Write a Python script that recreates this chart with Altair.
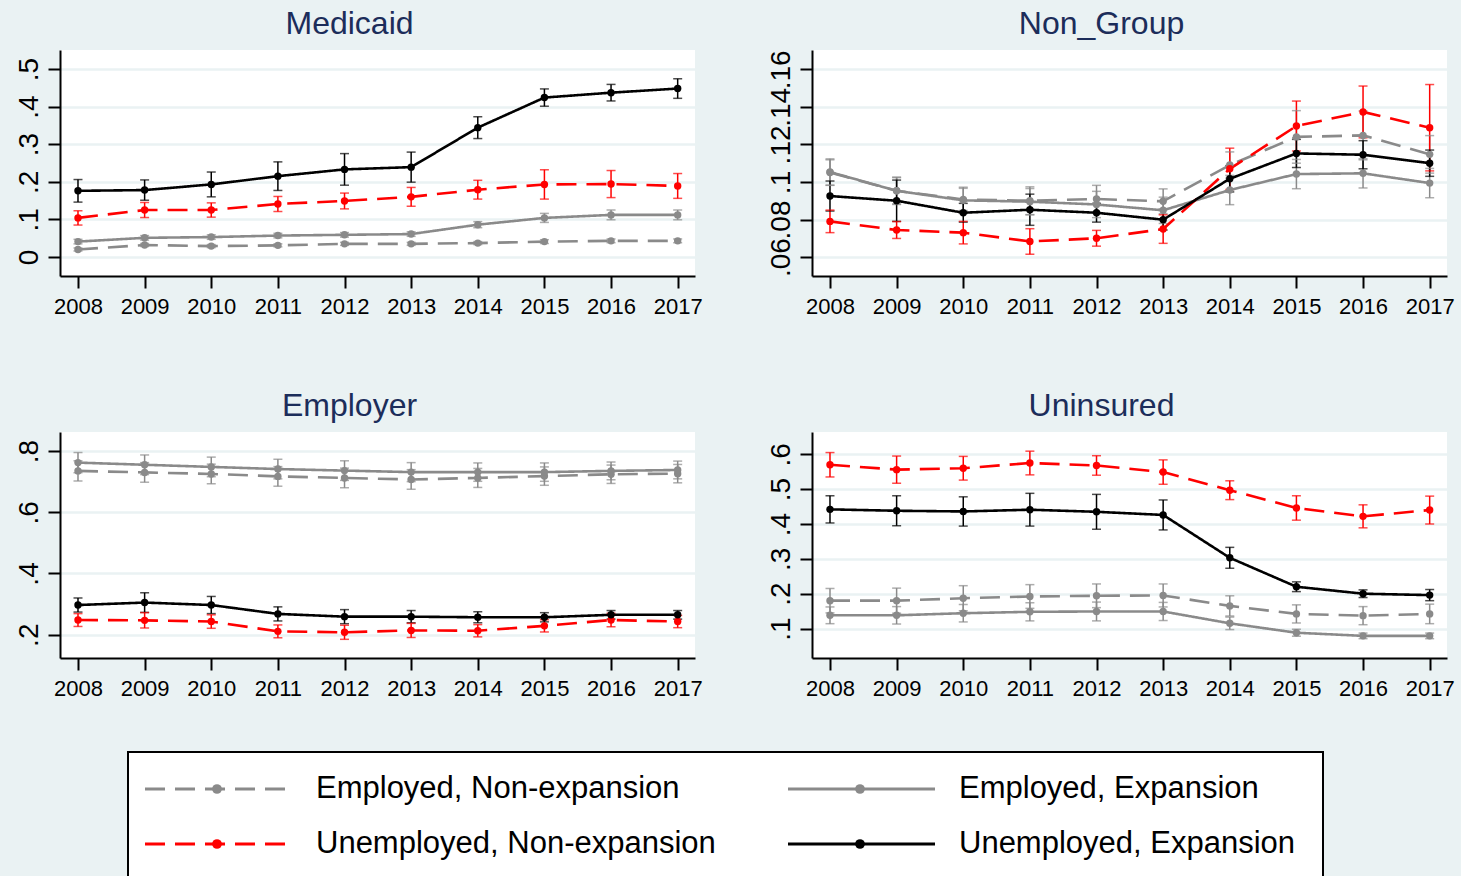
import altair as alt
import pandas as pd

years = [2008, 2009, 2010, 2011, 2012, 2013, 2014, 2015, 2016, 2017]

series_names = ["Employed, Non-expansion", "Employed, Expansion",
                "Unemployed, Non-expansion", "Unemployed, Expansion"]
series_colors = ["#8a8a8a", "#8a8a8a", "#ff0000", "#000000"]
series_dashes = [[20, 10], [1, 0], [20, 10], [1, 0]]
legend_cols = [0, 1, 0, 1]
legend_rows = [0, 0, 1, 1]

# ---- Medicaid ----
med_emp_nonexp = [0.020, 0.032, 0.029, 0.031, 0.035, 0.035, 0.037, 0.041, 0.043, 0.043]
med_emp_nonexp_err = [0.004, 0.004, 0.004, 0.004, 0.004, 0.004, 0.004, 0.005, 0.005, 0.005]
med_emp_exp = [0.041, 0.051, 0.053, 0.057, 0.059, 0.061, 0.086, 0.104, 0.112, 0.112]
med_emp_exp_err = [0.006, 0.006, 0.006, 0.006, 0.006, 0.006, 0.008, 0.012, 0.013, 0.013]
med_unemp_nonexp = [0.104, 0.125, 0.125, 0.141, 0.149, 0.160, 0.179, 0.193, 0.194, 0.189]
med_unemp_nonexp_err = [0.019, 0.020, 0.019, 0.020, 0.021, 0.025, 0.025, 0.039, 0.036, 0.033]
med_unemp_exp = [0.176, 0.178, 0.193, 0.215, 0.233, 0.239, 0.344, 0.424, 0.437, 0.448]
med_unemp_exp_err = [0.030, 0.027, 0.033, 0.038, 0.042, 0.040, 0.029, 0.023, 0.022, 0.026]

# ---- Non_Group ----
ng_emp_nonexp = [0.105, 0.0953, 0.0907, 0.090, 0.0909, 0.0897, 0.109, 0.124, 0.1248, 0.1147]
ng_emp_nonexp_err = [0.0068, 0.0073, 0.0059, 0.0074, 0.0073, 0.0066, 0.007, 0.014, 0.013, 0.010]
ng_emp_exp = [0.1053, 0.0953, 0.0902, 0.0895, 0.088, 0.0849, 0.0957, 0.1042, 0.1046, 0.0994]
ng_emp_exp_err = [0.007, 0.007, 0.007, 0.007, 0.007, 0.007, 0.0078, 0.0078, 0.0078, 0.0078]
ng_unemp_nonexp = [0.079, 0.0744, 0.073, 0.0683, 0.070, 0.0749, 0.107, 0.1298, 0.1373, 0.1289]
ng_unemp_nonexp_err = [0.006, 0.0045, 0.006, 0.0068, 0.0042, 0.0076, 0.011, 0.0133, 0.0138, 0.023]
ng_unemp_exp = [0.0925, 0.090, 0.0836, 0.0852, 0.0836, 0.0799, 0.1017, 0.1152, 0.1145, 0.110]
ng_unemp_exp_err = [0.008, 0.011, 0.005, 0.0083, 0.005, 0.0055, 0.007, 0.0075, 0.0075, 0.007]

# ---- Employer ----
er_emp_nonexp = [0.735, 0.730, 0.725, 0.717, 0.712, 0.707, 0.712, 0.718, 0.724, 0.726]
er_emp_nonexp_err = [0.033, 0.032, 0.032, 0.032, 0.032, 0.032, 0.031, 0.030, 0.030, 0.030]
er_emp_exp = [0.762, 0.755, 0.748, 0.741, 0.736, 0.731, 0.731, 0.731, 0.735, 0.738]
er_emp_exp_err = [0.033, 0.032, 0.032, 0.032, 0.032, 0.031, 0.030, 0.030, 0.029, 0.029]
er_unemp_nonexp = [0.248, 0.247, 0.243, 0.211, 0.208, 0.214, 0.213, 0.229, 0.248, 0.243]
er_unemp_nonexp_err = [0.021, 0.025, 0.022, 0.021, 0.023, 0.023, 0.020, 0.020, 0.022, 0.020]
er_unemp_exp = [0.297, 0.305, 0.297, 0.268, 0.259, 0.259, 0.257, 0.257, 0.265, 0.265]
er_unemp_exp_err = [0.023, 0.032, 0.028, 0.023, 0.023, 0.020, 0.018, 0.015, 0.014, 0.014]

# ---- Uninsured ----
un_emp_nonexp = [0.180, 0.180, 0.187, 0.192, 0.194, 0.195, 0.165, 0.142, 0.137, 0.142]
un_emp_nonexp_err = [0.035, 0.036, 0.036, 0.034, 0.034, 0.033, 0.029, 0.026, 0.026, 0.028]
un_emp_exp = [0.138, 0.138, 0.144, 0.148, 0.149, 0.149, 0.115, 0.088, 0.079, 0.079]
un_emp_exp_err = [0.024, 0.025, 0.025, 0.026, 0.027, 0.026, 0.018, 0.010, 0.008, 0.008]
un_unemp_nonexp = [0.570, 0.556, 0.560, 0.575, 0.568, 0.549, 0.497, 0.446, 0.422, 0.440]
un_unemp_nonexp_err = [0.035, 0.039, 0.034, 0.034, 0.028, 0.035, 0.027, 0.035, 0.033, 0.040]
un_unemp_exp = [0.442, 0.438, 0.436, 0.441, 0.435, 0.426, 0.303, 0.220, 0.200, 0.196]
un_unemp_exp_err = [0.039, 0.043, 0.042, 0.047, 0.050, 0.043, 0.030, 0.014, 0.011, 0.016]

panel_titles = ["Medicaid", "Non_Group", "Employer", "Uninsured"]
panel_domains = [[-0.0505, 0.5505], [0.0499, 0.1703], [0.124, 0.862], [0.0155, 0.664]]
panel_ticks = [[0, 0.1, 0.2, 0.3, 0.4, 0.5],
               [0.06, 0.08, 0.1, 0.12, 0.14, 0.16],
               [0.2, 0.4, 0.6, 0.8],
               [0.1, 0.2, 0.3, 0.4, 0.5, 0.6]]
panel_values = [
    ([med_emp_nonexp, med_emp_exp, med_unemp_nonexp, med_unemp_exp],
     [med_emp_nonexp_err, med_emp_exp_err, med_unemp_nonexp_err, med_unemp_exp_err]),
    ([ng_emp_nonexp, ng_emp_exp, ng_unemp_nonexp, ng_unemp_exp],
     [ng_emp_nonexp_err, ng_emp_exp_err, ng_unemp_nonexp_err, ng_unemp_exp_err]),
    ([er_emp_nonexp, er_emp_exp, er_unemp_nonexp, er_unemp_exp],
     [er_emp_nonexp_err, er_emp_exp_err, er_unemp_nonexp_err, er_unemp_exp_err]),
    ([un_emp_nonexp, un_emp_exp, un_unemp_nonexp, un_unemp_exp],
     [un_emp_nonexp_err, un_emp_exp_err, un_unemp_nonexp_err, un_unemp_exp_err]),
]

FONT = "Liberation Sans"
BG = "#eaf2f3"
PW, PH = 635, 226

color_scale = alt.Scale(domain=series_names, range=series_colors)
dash_scale = alt.Scale(domain=series_names, range=series_dashes)


def make_panel(title, vals, errs, domain, ticks):
    rows = []
    for si, name in enumerate(series_names):
        for yi, yr in enumerate(years):
            v = vals[si][yi]
            e = errs[si][yi]
            rows.append({"year": yr, "series": name, "order": si,
                         "value": v, "lo": v - e, "hi": v + e})
    df = pd.DataFrame(rows)
    x = alt.X("year:Q",
              scale=alt.Scale(domain=[2007.73, 2017.26], nice=False, zero=False),
              axis=alt.Axis(values=years, format="d", title=None, grid=False,
                            labelFontSize=22, labelFont=FONT, labelColor="black",
                            tickSize=12, tickWidth=2, tickColor="black",
                            domainColor="black", domainWidth=2,
                            labelPadding=8, labelFlush=False, labelOverlap=False))
    yscale = alt.Scale(domain=domain, nice=False, zero=False)
    yaxis = alt.Axis(values=ticks, title=None, grid=True, gridColor=BG, gridWidth=2.5,
                     labelExpr="replace(format(datum.value, '~g'), '0.', '.')",
                     labelAngle=270, labelAlign="center", labelBaseline="alphabetic",
                     labelFontSize=28, labelFont=FONT, labelColor="black",
                     labelPadding=11, tickSize=12, tickWidth=2, tickColor="black",
                     domainColor="black", domainWidth=2, labelFlush=False,
                     labelOverlap=False)
    color = alt.Color("series:N", scale=color_scale, legend=None)
    base = alt.Chart(df)
    rules = base.mark_rule(strokeWidth=1.5).encode(
        x=x, y=alt.Y("lo:Q", scale=yscale, axis=yaxis), y2="hi:Q", color=color)
    cap_lo = base.mark_tick(orient="horizontal", size=9, thickness=1.5).encode(
        x=x, y=alt.Y("lo:Q", scale=yscale, axis=yaxis), color=color)
    cap_hi = base.mark_tick(orient="horizontal", size=9, thickness=1.5).encode(
        x=x, y=alt.Y("hi:Q", scale=yscale, axis=yaxis), color=color)
    lines = base.mark_line(strokeWidth=2.6).encode(
        x=x, y=alt.Y("value:Q", scale=yscale, axis=yaxis), color=color,
        strokeDash=alt.StrokeDash("series:N", scale=dash_scale, legend=None),
        order="year:Q")
    points = base.mark_point(filled=True, size=55, opacity=1).encode(
        x=x, y=alt.Y("value:Q", scale=yscale, axis=yaxis), color=color)
    return alt.layer(rules, cap_lo, cap_hi, lines, points).properties(
        width=PW, height=PH,
        title=alt.TitleParams(title, fontSize=32, font=FONT, color="#1c2d5a",
                              fontWeight="normal", offset=-16, baseline="alphabetic",
                              frame="group", anchor="middle", dx=-28),
        view=alt.ViewBackground(fill="white", strokeWidth=0))


panels = [make_panel(panel_titles[i], panel_values[i][0], panel_values[i][1],
                     panel_domains[i], panel_ticks[i]) for i in range(4)]

# ---- legend ----
leg_df = pd.DataFrame({"series": series_names, "col": legend_cols, "row": legend_rows})
LW, LH = PW * 2 + 117, 126
lx = alt.X("col:Q", scale=alt.Scale(domain=[0, 1], range=[85, 728]), axis=None)
ly = alt.Y("row:Q", scale=alt.Scale(domain=[0, 1], range=[38, 93]), axis=None)
lcolor = alt.Color("series:N", scale=color_scale, legend=None)

box = alt.Chart(pd.DataFrame({"b": [0]})).mark_rect(
    fill="white", stroke="black", strokeWidth=2, clip=True).encode(
    x=alt.value(68), x2=alt.value(1263), y=alt.value(1), y2=alt.value(170))
leg_lines = alt.Chart(leg_df).mark_rule(strokeWidth=3, x2Offset=147).encode(
    x=lx, x2="col:Q", y=ly, color=lcolor,
    strokeDash=alt.StrokeDash("series:N", scale=dash_scale, legend=None))
leg_dots = alt.Chart(leg_df).mark_point(filled=True, size=95, opacity=1, xOffset=72).encode(
    x=lx, y=ly, color=lcolor)
leg_text = alt.Chart(leg_df).mark_text(align="left", baseline="middle", fontSize=31,
                                        font=FONT, color="black", xOffset=171).encode(
    x=lx, y=ly, text="series:N")
legend = alt.layer(box, leg_lines, leg_dots, leg_text).properties(
    width=LW, height=LH, view=alt.ViewBackground(fill=BG, strokeWidth=0))

grid = alt.concat(*panels, columns=2,
                  spacing=alt.RowColnumber(row=156, column=117), bounds="flush")
chart = alt.vconcat(grid, legend, spacing=52).properties(
    background=BG,
    padding={"left": 15, "top": 7, "right": 6, "bottom": 0},
).configure_view(strokeWidth=0)

chart.save("out.html", embed_options={"renderer": "svg", "actions": False})
